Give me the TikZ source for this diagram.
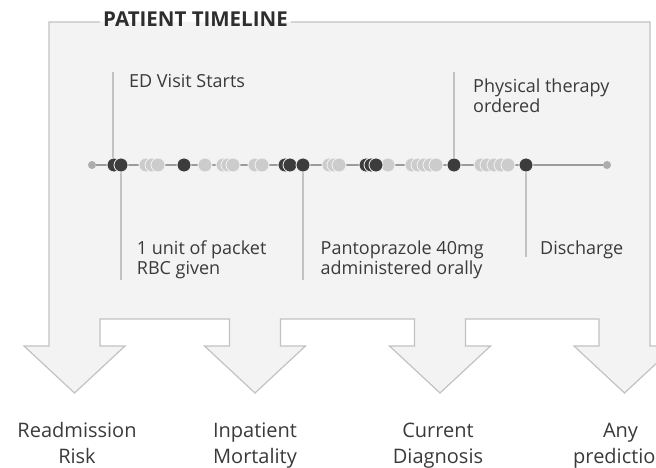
\documentclass[tikz,border=0pt]{standalone}
\usepackage{fontspec}
\setmainfont{Open Sans}
\usetikzlibrary{positioning,calc}

\definecolor{panelfill}{HTML}{F3F3F3}
\definecolor{panelline}{HTML}{C2C2C2}
\definecolor{inkgray}{HTML}{3A3A3A}
\definecolor{dotdark}{HTML}{3C3C3C}
\definecolor{dotlight}{HTML}{CCCCCC}

\tikzset{
  eventlabel/.style={font=\fontsize{18}{20.5}\selectfont, text=inkgray, align=left, inner sep=0pt, anchor=base west},
  tasklabel/.style={font=\fontsize{20}{26}\selectfont, text=inkgray, align=center, inner sep=0pt, anchor=base},
  tickline/.style={draw=panelline, line width=1.2pt},
  darkdot/.style={circle, fill=dotdark, draw=panelfill, line width=0.8pt, minimum size=14pt, inner sep=0pt},
  lightdot/.style={circle, fill=dotlight, draw=panelfill, line width=0.8pt, minimum size=14pt, inner sep=0pt},
  enddot/.style={circle, fill=dotlight!85!black, minimum size=8pt, inner sep=0pt},
}

% outline of the panel, from the title going round to the left
\def\panelpath{-- (650,22) -- (650,346) -- (675,346) -- (624.5,393) -- (574,346) -- (599,346) -- (599,319)
  -- (465.5,319) -- (465.5,346) -- (490.5,346) -- (440,393) -- (389.5,346) -- (414.5,346) -- (414.5,319)
  -- (280.5,319) -- (280.5,346) -- (305.5,346) -- (255,393) -- (204.5,346) -- (229.5,346) -- (229.5,319)
  -- (100,319) -- (100,346) -- (125,346) -- (74.5,393) -- (24,346) -- (49,346) -- (49,22)}

\begin{document}
\begin{tikzpicture}[x=1pt, y=-1pt]
  \useasboundingbox (0,0) rectangle (656,468);

  \fill[panelfill] (49,22) \panelpath -- cycle;
  \node[font=\fontsize{20.5}{24}\selectfont\bfseries, text=inkgray!80!black, anchor=base west, inner xsep=3pt, inner ysep=0pt] (title) at (100,26.7) {PATIENT TIMELINE};
  \draw[panelline, line width=1.2pt] (title.east |- 0,22) \panelpath -- (title.west |- 0,22);

  % timeline
  \node[enddot] (first) at (92,165) {};
  \node[enddot] (last) at (607,165) {};
  \draw[panelline!80!black, line width=1.4pt] (first) -- (last);

  \coordinate (edtop) at (113,72);
  \coordinate (pttop) at (454,72);
  \coordinate (rbcbot) at (121,280);
  \coordinate (pantobot) at (303,280);
  \coordinate (dischbot) at (526,257);
  \draw[tickline] (edtop) -- (113,165);
  \draw[tickline] (pttop) -- (454,165);
  \draw[tickline] (121,165) -- (rbcbot);
  \draw[tickline] (303,165) -- (pantobot);
  \draw[tickline] (526,165) -- (dischbot);

  \foreach \x [count=\i] in {146,152,158,205,223,228,233,255,262,329,334,339,388,412,418,424,430,436,481,487,494,501,508}
    \node[lightdot] (lt\i) at (\x,165) {};
  \foreach \x [count=\i] in {114,121,184,285,290,303,366,371,376,454,526}
    \node[darkdot] (dk\i) at (\x,165) {};

  % events (base is the last line)
  \node[eventlabel] (edvisit) at (129,87.3) {ED Visit Starts};
  \node[eventlabel] (physio) at (473,113) {Physical therapy\\ordered};
  \node[eventlabel] (rbc) at (136.7,274.5) {1 unit of packet\\RBC given};
  \node[eventlabel] (panto) at (320.5,274.5) {Pantoprazole 40mg\\administered orally};
  \node[eventlabel] (discharge) at (540,254) {Discharge};

  % prediction tasks
  \node[tasklabel] (readmit) at (77,463) {Readmission\\Risk};
  \node[tasklabel] (mortality) at (255,463) {Inpatient\\Mortality};
  \node[tasklabel] (diagnosis) at (438,463) {Current\\Diagnosis};
  \node[tasklabel] (anypred) at (620.5,463) {Any\\prediction};
\end{tikzpicture}
\end{document}
